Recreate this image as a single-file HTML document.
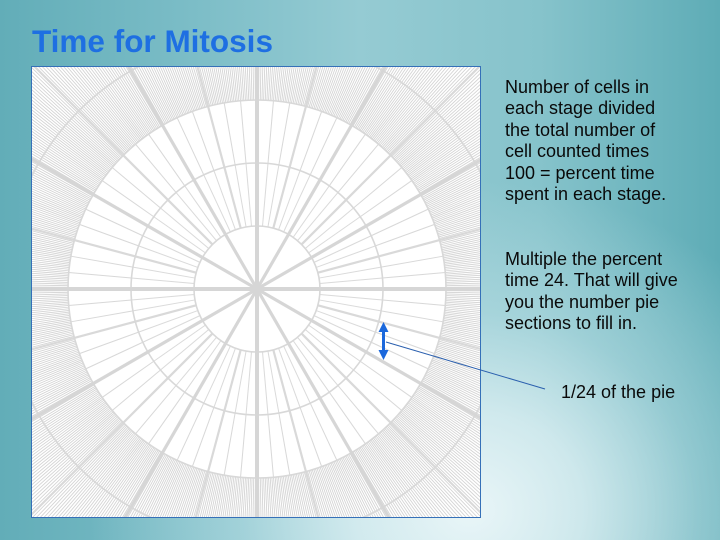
<!DOCTYPE html>
<html>
<head>
<meta charset="utf-8">
<style>
  html { margin:0; padding:0; width:720px; height:540px; overflow:hidden; }
  body { margin:0; padding:0; width:720px; height:540px; overflow:hidden; position:relative;
    background:
      radial-gradient(ellipse 380px 330px at 470px 510px, rgba(238,248,250,0.95) 0%, rgba(225,242,245,0.8) 30%, rgba(200,230,235,0.45) 60%, rgba(180,220,226,0) 100%),
      linear-gradient(to right, #62adb8 0%, #7abcc6 25%, #95cbd3 50%, #86c3cb 75%, #5eacb6 100%);
    font-family: "Liberation Sans", Arial, sans-serif;
  }
  .title { position:absolute; left:32px; top:25px; font-size:31.5px; line-height:32px; font-weight:bold; color:#1e6fe2; white-space:nowrap; }
  .box { position:absolute; left:31px; top:66px; width:448px; height:450px; border:1px solid #3570b8; background:#fff; overflow:hidden; }
  .box svg { display:block; }
  .txt { position:absolute; font-size:18px; line-height:21.4px; color:#0a0a0a; white-space:nowrap; }
  .ov { position:absolute; left:0; top:0; display:block; }
</style>
</head>
<body>
<div class="title">Time for Mitosis</div>

<div class="box">
<svg width="448" height="450" viewBox="0 0 448 450">
  <defs>
    <line id="lo" x1="189" y1="0" x2="345" y2="0"/>
    <g id="o2"><use href="#lo"/><use href="#lo" transform="rotate(0.5)"/><use href="#lo" transform="rotate(1)"/><use href="#lo" transform="rotate(1.5)"/><use href="#lo" transform="rotate(2)"/></g>
    <g id="o3"><use href="#o2"/><use href="#o2" transform="rotate(2.5)"/><use href="#o2" transform="rotate(5)"/><use href="#o2" transform="rotate(7.5)"/><use href="#o2" transform="rotate(10)"/><use href="#o2" transform="rotate(12.5)"/><use href="#o2" transform="rotate(15)"/><use href="#o2" transform="rotate(17.5)"/><use href="#o2" transform="rotate(20)"/><use href="#o2" transform="rotate(22.5)"/><use href="#o2" transform="rotate(25)"/><use href="#o2" transform="rotate(27.5)"/></g>
    <g id="o4"><use href="#o3"/><use href="#o3" transform="rotate(30)"/><use href="#o3" transform="rotate(60)"/><use href="#o3" transform="rotate(90)"/><use href="#o3" transform="rotate(120)"/><use href="#o3" transform="rotate(150)"/><use href="#o3" transform="rotate(180)"/><use href="#o3" transform="rotate(210)"/><use href="#o3" transform="rotate(240)"/><use href="#o3" transform="rotate(270)"/><use href="#o3" transform="rotate(300)"/><use href="#o3" transform="rotate(330)"/></g>

    <line id="l3" x1="126" y1="0" x2="189" y2="0"/>
    <g id="r3b"><use href="#l3"/><use href="#l3" transform="rotate(5)"/><use href="#l3" transform="rotate(10)"/><use href="#l3" transform="rotate(15)"/><use href="#l3" transform="rotate(20)"/><use href="#l3" transform="rotate(25)"/></g>
    <g id="r3c"><use href="#r3b"/><use href="#r3b" transform="rotate(30)"/><use href="#r3b" transform="rotate(60)"/><use href="#r3b" transform="rotate(90)"/><use href="#r3b" transform="rotate(120)"/><use href="#r3b" transform="rotate(150)"/><use href="#r3b" transform="rotate(180)"/><use href="#r3b" transform="rotate(210)"/><use href="#r3b" transform="rotate(240)"/><use href="#r3b" transform="rotate(270)"/><use href="#r3b" transform="rotate(300)"/><use href="#r3b" transform="rotate(330)"/></g>

    <line id="l2" x1="63" y1="0" x2="126" y2="0"/>
    <g id="r2b"><use href="#l2"/><use href="#l2" transform="rotate(5)"/><use href="#l2" transform="rotate(10)"/><use href="#l2" transform="rotate(15)"/><use href="#l2" transform="rotate(20)"/><use href="#l2" transform="rotate(25)"/></g>
    <g id="r2c"><use href="#r2b"/><use href="#r2b" transform="rotate(30)"/><use href="#r2b" transform="rotate(60)"/><use href="#r2b" transform="rotate(90)"/><use href="#r2b" transform="rotate(120)"/><use href="#r2b" transform="rotate(150)"/><use href="#r2b" transform="rotate(180)"/><use href="#r2b" transform="rotate(210)"/><use href="#r2b" transform="rotate(240)"/><use href="#r2b" transform="rotate(270)"/><use href="#r2b" transform="rotate(300)"/><use href="#r2b" transform="rotate(330)"/></g>

    <line id="lm" x1="63" y1="0" x2="345" y2="0"/>
    <line id="lt" x1="0" y1="0" x2="345" y2="0"/>

    <pattern id="grid" patternUnits="userSpaceOnUse" x="0" y="0" width="448" height="450">
      <rect x="0" y="0" width="448" height="450" fill="#ffffff"/>
      <g transform="translate(225,222)" fill="none">
        <g stroke="#d3d3d3" stroke-width="0.85"><use href="#o4"/></g>
        <g stroke="#d8d8d8" stroke-width="1"><use href="#r3c"/></g>
        <g stroke="#dadada" stroke-width="1"><use href="#r2c"/></g>
        <g stroke="#d9d9d9" stroke-width="2.2">
          <use href="#lm" transform="rotate(15)"/><use href="#lm" transform="rotate(45)"/><use href="#lm" transform="rotate(75)"/><use href="#lm" transform="rotate(105)"/><use href="#lm" transform="rotate(135)"/><use href="#lm" transform="rotate(165)"/><use href="#lm" transform="rotate(195)"/><use href="#lm" transform="rotate(225)"/><use href="#lm" transform="rotate(255)"/><use href="#lm" transform="rotate(285)"/><use href="#lm" transform="rotate(315)"/><use href="#lm" transform="rotate(345)"/>
        </g>
        <g stroke="#d8d8d8" stroke-width="1.6">
          <circle r="63"/><circle r="126"/><circle r="189"/><circle r="252"/>
        </g>
        <g stroke="#d6d6d6" stroke-width="3.2">
          <use href="#lt" transform="rotate(30)"/><use href="#lt" transform="rotate(60)"/><use href="#lt" transform="rotate(120)"/><use href="#lt" transform="rotate(150)"/><use href="#lt" transform="rotate(210)"/><use href="#lt" transform="rotate(240)"/><use href="#lt" transform="rotate(300)"/><use href="#lt" transform="rotate(330)"/>
        </g>
        <g stroke="#d6d6d6" stroke-width="4">
          <use href="#lt"/><use href="#lt" transform="rotate(90)"/><use href="#lt" transform="rotate(180)"/><use href="#lt" transform="rotate(270)"/>
        </g>
      </g>
    </pattern>
  </defs>
  <rect x="0" y="0" width="448" height="450" fill="url(#grid)"/>
</svg>
</div>

<svg class="ov" width="720" height="540" viewBox="0 0 720 540">
  <line x1="386" y1="342" x2="545" y2="389" stroke="#2a5fae" stroke-width="1"/>
  <polygon points="383.5,322 378.5,332 382,332 382,350 378.5,350 383.5,360 388.5,350 385,350 385,332 388.5,332" fill="#1b68dc"/>
</svg>

<div class="txt" style="left:505px; top:77px;">Number of cells in<br>each stage divided<br>the total number of<br>cell counted times<br>100 = percent time<br>spent in each stage.</div>
<div class="txt" style="left:505px; top:249px;">Multiple the percent<br>time 24. That will give<br>you the number pie<br>sections to fill in.</div>
<div class="txt" style="left:561px; top:382px;">1/24 of the pie</div>
</body>
</html>
